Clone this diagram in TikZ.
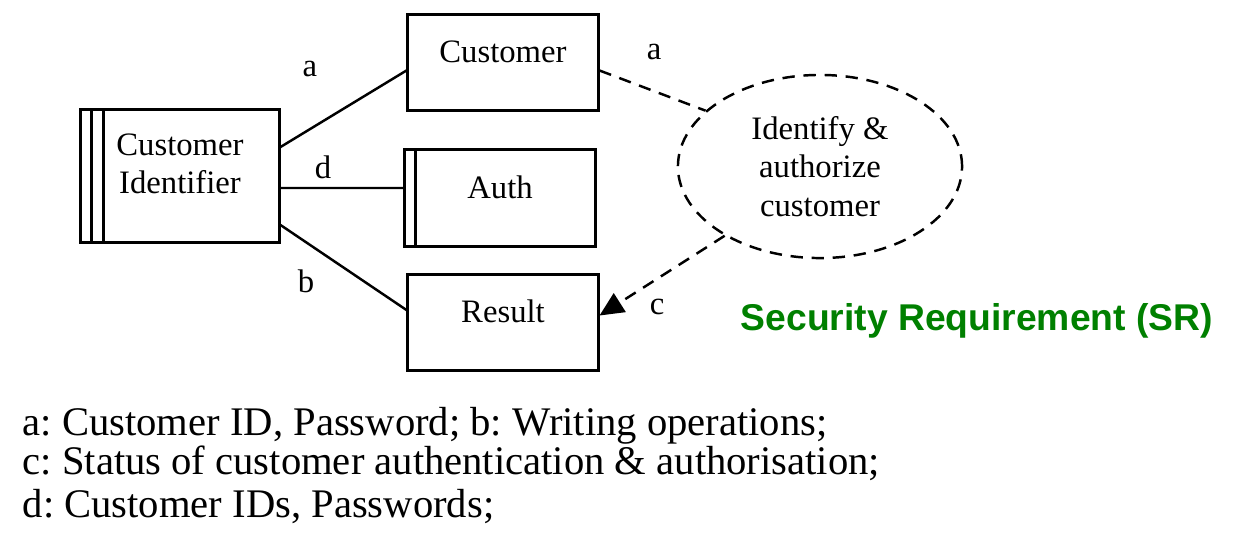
\documentclass[tikz,border=0pt]{standalone}
\usepackage{fontspec}
\setmainfont{Liberation Serif}
\newfontfamily\headfont{Liberation Sans}
\usetikzlibrary{shapes.geometric,arrows.meta}
\definecolor{srgreen}{RGB}{0,128,0}
\frenchspacing

\begin{document}
\begin{tikzpicture}[x=0.01cm,y=-0.01cm,font=\fontsize{9.3}{10.9}\selectfont]
  \useasboundingbox (0,0) rectangle (1239,548);

  \begin{scope}[every node/.style={rectangle,draw,line width=0.85pt,minimum width=1.9cm,minimum height=0.95cm,inner sep=0pt,text height=0.3cm,text depth=0.3cm}]
      \node (custid) at (180,176) [minimum width=1.98cm,minimum height=1.32cm] {};
      \node (cust) at (503,62.5) {Customer};
      \node (auth) at (500,198) [minimum height=0.96cm] {Auth};
      \node (res) at (503,322.5) {Result};
  \end{scope}

  \node (custidtext) at (180,164) [align=center] {Customer\\Identifier};
  \draw[line width=0.85pt] ([xshift=0.12cm]custid.north west) -- ([xshift=0.12cm]custid.south west);
  \draw[line width=0.85pt] ([xshift=0.24cm]custid.north west) -- ([xshift=0.24cm]custid.south west);
  \draw[line width=0.85pt] ([xshift=0.12cm]auth.north west) -- ([xshift=0.12cm]auth.south west);

  \node (sr) at (820,166.5) [ellipse,draw,line width=0.7pt,dash pattern=on 3.5pt off 2.5pt,minimum width=2.84cm,minimum height=1.83cm,inner sep=0pt,align=center] {Identify \&\\authorize\\customer};

  \tikzset{flow/.style={line width=0.7pt}, dataflow/.style={line width=0.7pt, dash pattern=on 3.5pt off 2.5pt}}

  \draw[flow] ([yshift=0.29cm]custid.east) -- ([yshift=-0.08cm]cust.west);
  \draw[flow] ([yshift=-0.12cm]custid.east) -- ([yshift=0.10cm]auth.west);
  \draw[flow] ([yshift=-0.49cm]custid.east) -- ([yshift=0.125cm]res.west);

  \draw[dataflow] ([yshift=-0.08cm]cust.east) -- (sr.154);
  \draw[dataflow,-{Triangle[length=0.24cm,width=0.22cm]}] (sr.216) -- ([yshift=0.07cm]res.east);

  \node (la) at (310,69) {a};
  \node (ld) at (323,167) {d};
  \node (lb) at (306,281) {b};
  \node (la2) at (654,52) {a};
  \node (lc) at (657,307) {c};

  \node (srtitle) [anchor=base west,inner sep=0pt,text=srgreen,font=\headfont\bfseries\fontsize{10.6}{12}\selectfont] at (740,330) {Security Requirement (SR)};

  \begin{scope}[every node/.style={anchor=base west,inner sep=0pt,font=\fontsize{11.55}{13}\selectfont}]
      \node (keya) at (22,435) {a: Customer ID, Password; b: Writing operations;};
      \node (keyc) at (22,474) {c: Status of customer authentication \& authorisation;};
      \node (keyd) at (22,517) {d: Customer IDs, Passwords;};
  \end{scope}
\end{tikzpicture}
\end{document}
